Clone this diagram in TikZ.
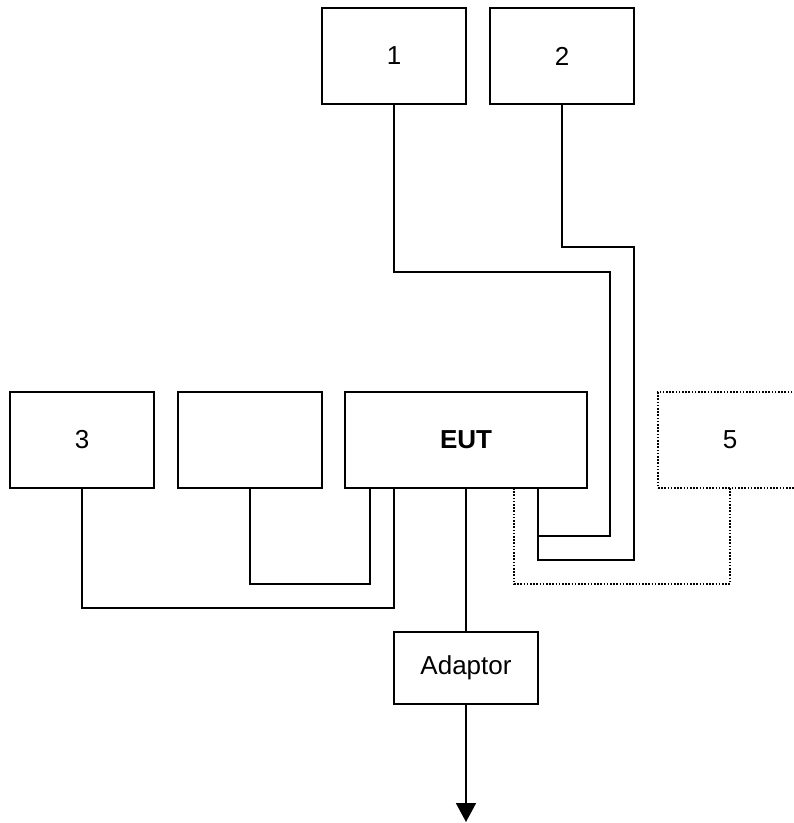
\documentclass[tikz,border=0pt]{standalone}
\usepackage{fontspec}
\setmainfont{Liberation Sans}
\usetikzlibrary{arrows.meta}
\begin{document}
\begin{tikzpicture}[x=1pt,y=-1pt,
  box/.style={draw,line width=1.6pt,minimum width=144pt,minimum height=96pt,inner sep=0pt,font=\fontsize{26}{30}\selectfont},
  wire/.style={line width=1.6pt},
  dotwire/.style={line width=1.6pt,dash pattern=on 1.6pt off 1.6pt},
  dotbox/.style={box,line width=1.6pt,dash pattern=on 1.6pt off 1.6pt}]
\useasboundingbox (0,0) rectangle (794,823);
\node[box] (n1) at (394,56) {1};
\node[box] (n2) at (562,56) {2};
\node[box] (n3) at (82,440) {3};
\node[box] (n4) at (250,440) {};
\node[box,minimum width=242pt,font=\fontsize{26}{30}\selectfont\bfseries] (eut) at (466,440) {EUT};
\node[dotbox,minimum width=160pt] (n5) at (738,440) {\hspace*{-16pt}5};
\node[box,minimum height=72pt] (ad) at (466,668) {Adaptor};
\coordinate (e1) at (538,488);
\coordinate (e2) at (370,488);
\coordinate (e3) at (394,488);
\coordinate (e5) at (514,488);
\coordinate (e6) at (730,488);
\coordinate (out) at (466,822);
% cable 1
\draw[wire] (n1.south) |- (610,272) |- (538,536) -- (e1);
% cable 2
\draw[wire] (n2.south) |- (634,247) |- (538,560) -- (538,536);
% blank box cable
\draw[wire] (n4.south) |- (370,584) -- (e2);
% box 3 cable
\draw[wire] (n3.south) |- (394,608) -- (e3);
% box 5 dotted cable
\draw[dotwire] (e5) |- (730,584) -- (e6);
% EUT to adaptor
\draw[wire] (eut.south) -- (ad.north);
\draw[wire,-{Triangle[width=20pt,length=19pt]}] (ad.south) -- (out);
\end{tikzpicture}
\end{document}
